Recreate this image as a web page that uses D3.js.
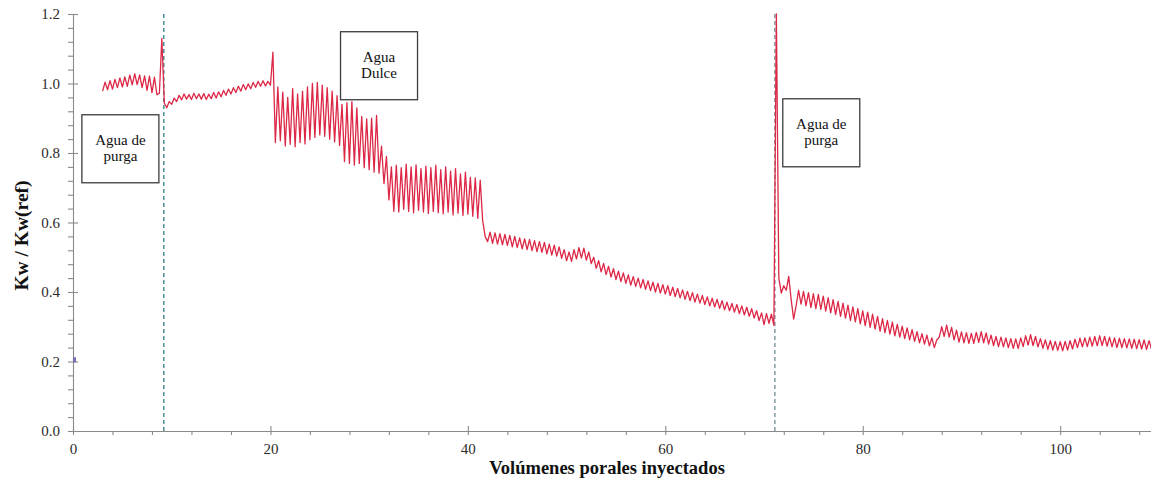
<!DOCTYPE html>
<html>
<head>
<meta charset="utf-8">
<script src="https://cdn.jsdelivr.net/npm/d3@7"></script>
<style>
  body { margin: 0; background: #fff; }
  svg text { font-family: "Liberation Serif", "Times New Roman", serif; }
</style>
</head>
<body>
<div id="chart"></div>
<script>
// sampling grid of the record (pore volumes)
const pvStart = 3.0;
const pvStep = 0.25;

// Kw / Kw(ref), one value per grid step
const kwRatio = [
  0.978, 1.004, 0.982, 1.008, 0.984, 1.012, 0.988, 1.016,
  0.990, 1.019, 0.992, 1.024, 0.996, 1.028, 0.997, 1.025,
  0.988, 1.022, 0.980, 1.021, 0.974, 1.018, 0.968, 0.972,
  1.130, 0.944, 0.930, 0.948, 0.940, 0.958, 0.948, 0.966,
  0.953, 0.970, 0.955, 0.968, 0.954, 0.972, 0.956, 0.970,
  0.955, 0.971, 0.954, 0.969, 0.956, 0.974, 0.958, 0.976,
  0.962, 0.980, 0.966, 0.984, 0.970, 0.988, 0.974, 0.992,
  0.978, 0.997, 0.982, 0.999, 0.985, 1.003, 0.989, 1.006,
  0.992, 1.008, 0.993, 1.006, 0.995, 1.090, 0.830, 0.990,
  0.835, 0.975, 0.820, 0.960, 0.825, 0.985, 0.818, 0.970,
  0.830, 0.978, 0.826, 0.990, 0.838, 1.000, 0.845, 1.003,
  0.852, 0.995, 0.848, 0.988, 0.840, 0.978, 0.832, 0.965,
  0.822, 0.940, 0.775, 0.945, 0.770, 0.948, 0.765, 0.930,
  0.770, 0.905, 0.758, 0.898, 0.752, 0.900, 0.745, 0.908,
  0.742, 0.820, 0.712, 0.790, 0.665, 0.760, 0.632, 0.765,
  0.630, 0.758, 0.638, 0.768, 0.632, 0.760, 0.628, 0.766,
  0.635, 0.755, 0.630, 0.762, 0.626, 0.758, 0.632, 0.765,
  0.628, 0.752, 0.625, 0.760, 0.630, 0.748, 0.622, 0.755,
  0.627, 0.740, 0.620, 0.745, 0.624, 0.730, 0.618, 0.728,
  0.612, 0.722, 0.605, 0.560, 0.545, 0.572, 0.540, 0.570,
  0.538, 0.568, 0.536, 0.566, 0.534, 0.563, 0.530, 0.560,
  0.528, 0.556, 0.524, 0.553, 0.522, 0.551, 0.519, 0.548,
  0.516, 0.545, 0.514, 0.543, 0.510, 0.538, 0.506, 0.535,
  0.503, 0.530, 0.497, 0.522, 0.490, 0.515, 0.488, 0.522,
  0.495, 0.528, 0.498, 0.526, 0.492, 0.515, 0.482, 0.500,
  0.468, 0.490, 0.458, 0.482, 0.450, 0.474, 0.443, 0.467,
  0.436, 0.460, 0.430, 0.455, 0.425, 0.449, 0.420, 0.444,
  0.416, 0.440, 0.412, 0.436, 0.408, 0.432, 0.404, 0.428,
  0.400, 0.425, 0.397, 0.421, 0.394, 0.418, 0.390, 0.414,
  0.387, 0.410, 0.383, 0.406, 0.379, 0.402, 0.375, 0.398,
  0.371, 0.394, 0.368, 0.390, 0.364, 0.386, 0.360, 0.382,
  0.357, 0.379, 0.353, 0.375, 0.349, 0.371, 0.346, 0.367,
  0.342, 0.364, 0.338, 0.360, 0.334, 0.356, 0.330, 0.352,
  0.325, 0.346, 0.318, 0.340, 0.306, 0.338, 0.310, 0.336,
  0.304, 1.200, 0.440, 0.397, 0.418, 0.405, 0.445, 0.378,
  0.322, 0.360, 0.405, 0.365, 0.402, 0.360, 0.398, 0.355,
  0.395, 0.352, 0.393, 0.350, 0.388, 0.345, 0.384, 0.340,
  0.378, 0.335, 0.373, 0.330, 0.368, 0.325, 0.362, 0.318,
  0.357, 0.314, 0.352, 0.308, 0.346, 0.303, 0.342, 0.298,
  0.336, 0.293, 0.330, 0.287, 0.323, 0.283, 0.318, 0.279,
  0.313, 0.274, 0.307, 0.270, 0.302, 0.266, 0.297, 0.262,
  0.292, 0.258, 0.286, 0.254, 0.280, 0.250, 0.276, 0.245,
  0.268, 0.240, 0.262, 0.270, 0.300, 0.272, 0.305, 0.270,
  0.298, 0.262, 0.290, 0.256, 0.285, 0.254, 0.283, 0.252,
  0.281, 0.252, 0.284, 0.255, 0.286, 0.254, 0.282, 0.250,
  0.276, 0.246, 0.272, 0.243, 0.270, 0.242, 0.268, 0.240,
  0.266, 0.238, 0.265, 0.238, 0.268, 0.243, 0.274, 0.247,
  0.277, 0.246, 0.272, 0.242, 0.266, 0.238, 0.262, 0.235,
  0.260, 0.233, 0.258, 0.232, 0.257, 0.231, 0.258, 0.233,
  0.260, 0.236, 0.264, 0.240, 0.267, 0.242, 0.268, 0.243,
  0.270, 0.244, 0.272, 0.245, 0.274, 0.246, 0.272, 0.244,
  0.270, 0.242, 0.268, 0.240, 0.267, 0.240, 0.266, 0.239,
  0.265, 0.238, 0.264, 0.237, 0.263, 0.236, 0.262, 0.235,
  0.260, 0.236
];

const xTicks = [0, 20, 40, 60, 80, 100];
const yTicks = [0.0, 0.2, 0.4, 0.6, 0.8, 1.0, 1.2];

// fluid change markers (pore volume)
const changeLines = [9.2, 71.1];
const changeColors = ["#2e7d87", "#6f8c93"];

// text boxes, anchored at top-left in data units
const noteText = [["Agua de", "purga"], ["Agua", "Dulce"], ["Agua de", "purga"]];
const notePv = [0.9, 27.1, 71.9];
const noteKw = [0.910, 1.149, 0.956];

// lone point at the start of the axis
const startPoint = [[0, 0.205]];

const W = 1151, H = 483;
const margin = {top: 14, right: 0, bottom: 52, left: 73};
const innerW = W - margin.left - margin.right;
const innerH = H - margin.top - margin.bottom;

const svg = d3.select("#chart").append("svg")
  .attr("width", W)
  .attr("height", H);

const g = svg.append("g").attr("transform", `translate(${margin.left},${margin.top})`);

const x = d3.scaleLinear().domain([0, 109.2]).range([0, innerW]);
const y = d3.scaleLinear().domain([0, 1.2]).range([innerH, 0]);

g.append("clipPath").attr("id", "plot-clip")
  .append("rect").attr("x", 0).attr("y", -2).attr("width", innerW).attr("height", innerH + 2);

// minor ticks
const xMinor = d3.range(0, 109, 4).filter(v => v % 20 !== 0);
const yMinor = d3.range(0, 1.2001, 0.04).filter(v => Math.abs(v * 5 - Math.round(v * 5)) > 1e-6);

const axisColor = "#8a8a8a";
const textColor = "#2b2b2b";

let xMin = g.append("g").attr("transform", `translate(0,${innerH})`)
  .call(d3.axisBottom(x).tickValues(xMinor).tickSize(4).tickSizeOuter(0).tickFormat(""));
xMin.select(".domain").remove();

let yMin = g.append("g")
  .call(d3.axisLeft(y).tickValues(yMinor).tickSize(5).tickSizeOuter(0).tickFormat(""));
yMin.select(".domain").remove();

let xAxis = g.append("g").attr("transform", `translate(0,${innerH})`)
  .call(d3.axisBottom(x).tickValues(xTicks).tickSize(4).tickPadding(8).tickSizeOuter(0).tickFormat(d3.format("d")));
xAxis.selectAll(".tick line").attr("y1", -5);

let yAxis = g.append("g")
  .call(d3.axisLeft(y).tickValues(yTicks).tickSize(5).tickPadding(8).tickSizeOuter(0).tickFormat(d3.format(".1f")));
yAxis.selectAll(".tick line").attr("x1", 5);

g.selectAll(".domain, .tick line").attr("stroke", axisColor).attr("stroke-width", 1.1);
g.selectAll(".tick text")
  .attr("fill", textColor)
  .style("font-size", "15px")
  .style("font-family", "'Liberation Serif', serif");

// fluid change lines
g.selectAll(".change")
  .data(changeLines)
  .enter().append("line")
  .attr("class", "change")
  .attr("x1", d => x(d)).attr("x2", d => x(d))
  .attr("y1", y(1.2)).attr("y2", y(0))
  .attr("stroke", (d, i) => changeColors[i])
  .attr("stroke-width", 1.3)
  .attr("stroke-dasharray", "4,3");

// the record
const pts = kwRatio.map((v, i) => [pvStart + i * pvStep, v]);
const line = d3.line().x(d => x(d[0])).y(d => y(d[1]));

g.append("path")
  .datum(pts)
  .attr("clip-path", "url(#plot-clip)")
  .attr("d", line)
  .attr("fill", "none")
  .attr("stroke", "#dc2846")
  .attr("stroke-width", 1.3)
  .attr("stroke-linejoin", "round");

g.selectAll(".start-pt")
  .data(startPoint)
  .enter().append("rect")
  .attr("class", "start-pt")
  .attr("x", d => x(d[0]))
  .attr("y", d => y(d[1]) - 2.5)
  .attr("width", 3)
  .attr("height", 5)
  .attr("fill", "#7a6fb0");

// annotation boxes
const boxW = 77, boxH = 68;
noteText.forEach((lines, i) => {
  let bx = x(notePv[i]), by = y(noteKw[i]);
  g.append("rect")
    .attr("x", bx).attr("y", by)
    .attr("width", boxW).attr("height", boxH)
    .attr("fill", "#fff")
    .attr("stroke", "#3c3c3c")
    .attr("stroke-width", 1.3);
  let t = g.append("text")
    .attr("text-anchor", "middle")
    .attr("fill", "#111")
    .style("font-size", "15px");
  lines.forEach((s, j) => {
    t.append("tspan")
      .attr("x", bx + boxW / 2)
      .attr("y", by + 30 + j * 16.5)
      .text(s);
  });
});

// axis titles
svg.append("text")
  .attr("x", 607).attr("y", 474)
  .attr("text-anchor", "middle")
  .attr("fill", "#111")
  .style("font-size", "18.5px")
  .style("font-weight", "bold")
  .text("Volúmenes porales inyectados");

svg.append("text")
  .attr("transform", "translate(28,235.5) rotate(-90)")
  .attr("text-anchor", "middle")
  .attr("fill", "#111")
  .style("font-size", "19.5px")
  .style("font-weight", "bold")
  .text("Kw / Kw(ref)");
</script>
</body>
</html>
